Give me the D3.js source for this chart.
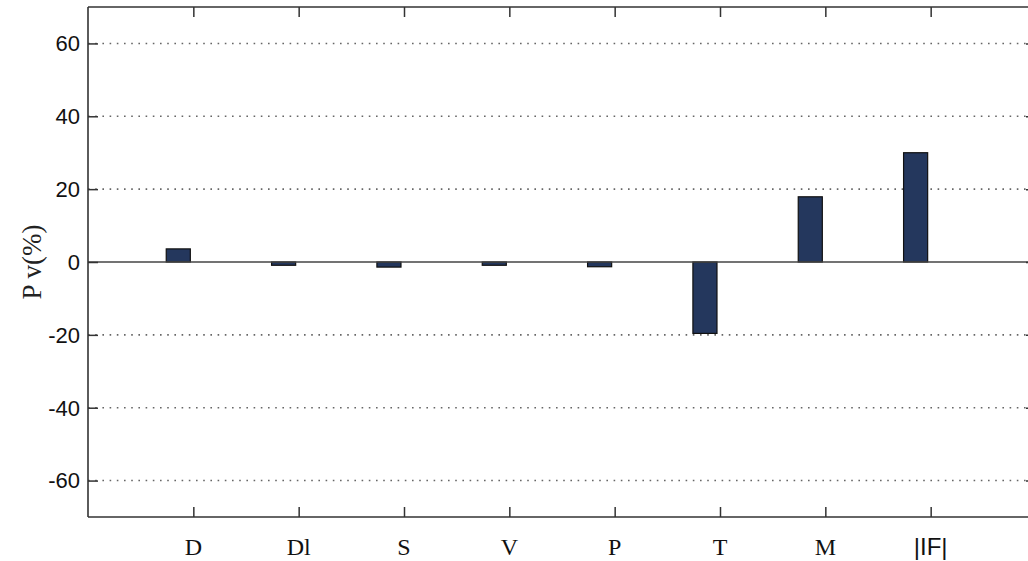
<!DOCTYPE html>
<html>
<head>
<meta charset="utf-8">
<script src="https://cdn.jsdelivr.net/npm/d3@7"></script>
<style>
  html, body { margin: 0; padding: 0; background: #fff; }
  svg { display: block; }
</style>
</head>
<body>
<svg id="chart" width="1028" height="561"></svg>
<script>
// ---- data ----
const categories = ["D", "Dl", "S", "V", "P", "T", "M", "|IF|"];
const values = [3.6, -0.9, -1.4, -0.9, -1.3, -19.6, 17.9, 30.0];
const yTicks = [-60, -40, -20, 0, 20, 40, 60];
const yLabelMain = "P";
const yLabelRest = "v(%)";

// ---- layout ----
const plotL = 88, plotR = 1036, plotT = 7, plotB = 517;
const svg = d3.select("#chart");

const x = d3.scaleLinear().domain([0, categories.length + 1]).range([plotL, plotR]);
const y = d3.scaleLinear().domain([-70, 70]).range([plotB, plotT]);

const axisColor = "#333";
const tickLen = 10;
const groupOffset = 0.1429;   // MATLAB-style grouped bar offset (first of two series)
const barW = 0.2286;

// grid lines (dotted)
svg.append("g").selectAll("line").data(yTicks.filter(d => d !== 0)).join("line")
  .attr("x1", plotL).attr("x2", plotR)
  .attr("y1", d => y(d)).attr("y2", d => y(d))
  .attr("stroke", "#666").attr("stroke-width", 1.6)
  .attr("stroke-dasharray", "1.6,5.6");

// bars
svg.append("g").selectAll("rect").data(values).join("rect")
  .attr("x", (d, i) => x(i + 1 - groupOffset - barW / 2))
  .attr("width", x(barW) - x(0))
  .attr("y", d => y(Math.max(0, d)))
  .attr("height", d => Math.abs(y(d) - y(0)))
  .attr("fill", "#24375d")
  .attr("stroke", "#111").attr("stroke-width", 1.2);

// zero line
svg.append("line")
  .attr("x1", plotL).attr("x2", plotR)
  .attr("y1", y(0)).attr("y2", y(0))
  .attr("stroke", "#444").attr("stroke-width", 1.5);

// axes: left, right, bottom, top (ticks only)
const yAxisL = d3.axisLeft(y).tickValues(yTicks).tickSize(-tickLen).tickFormat("");
const gL = svg.append("g").attr("transform", `translate(${plotL},0)`).call(yAxisL);
gL.select(".domain").remove();
const yAxisR = d3.axisRight(y).tickValues(yTicks).tickSize(-tickLen).tickFormat("");
const gR = svg.append("g").attr("transform", `translate(${plotR},0)`).call(yAxisR);
gR.select(".domain").remove();

const xTickVals = categories.map((c, i) => i + 1);
const xAxisB = d3.axisBottom(x).tickValues(xTickVals).tickSize(-tickLen).tickFormat("");
const gB = svg.append("g").attr("transform", `translate(0,${plotB})`).call(xAxisB);
gB.select(".domain").remove();
const xAxisT = d3.axisTop(x).tickValues(xTickVals).tickSize(-tickLen).tickFormat("");
const gT = svg.append("g").attr("transform", `translate(0,${plotT})`).call(xAxisT);
gT.select(".domain").remove();

svg.selectAll(".tick line").attr("stroke", axisColor).attr("stroke-width", 1.5);

// frame lines
svg.append("line").attr("x1", plotL).attr("x2", plotL).attr("y1", plotT).attr("y2", plotB)
  .attr("stroke", axisColor).attr("stroke-width", 1.6);
svg.append("line").attr("x1", plotL).attr("x2", plotR).attr("y1", plotB).attr("y2", plotB)
  .attr("stroke", axisColor).attr("stroke-width", 1.6);
svg.append("line").attr("x1", plotL).attr("x2", plotR).attr("y1", plotT).attr("y2", plotT)
  .attr("stroke", axisColor).attr("stroke-width", 1.6);

// y tick labels
svg.append("g").selectAll("text").data(yTicks).join("text")
  .attr("x", plotL - 8).attr("y", d => y(d)).attr("dy", "0.36em")
  .attr("text-anchor", "end")
  .attr("font-family", "Liberation Sans, Arial, sans-serif")
  .attr("font-size", 22).attr("fill", "#111")
  .text(d => d);

// x category labels
svg.append("g").selectAll("text").data(categories).join("text")
  .attr("x", (d, i) => x(i + 1)).attr("y", 555)
  .attr("text-anchor", "middle")
  .attr("font-family", d => d === "|IF|" ? "Liberation Sans, Arial, sans-serif" : "Liberation Serif, Times New Roman, serif")
  .attr("font-size", 24).attr("fill", "#111")
  .text(d => d);

// y axis label
const yl = svg.append("text")
  .attr("transform", `translate(41,${(plotT + plotB) / 2}) rotate(-90)`)
  .attr("text-anchor", "middle")
  .attr("font-family", "Liberation Serif, Times New Roman, serif")
  .attr("font-size", 27).attr("fill", "#222");
yl.append("tspan").text(yLabelMain);
yl.append("tspan").attr("dx", 6).text(yLabelRest);
</script>
</body>
</html>
